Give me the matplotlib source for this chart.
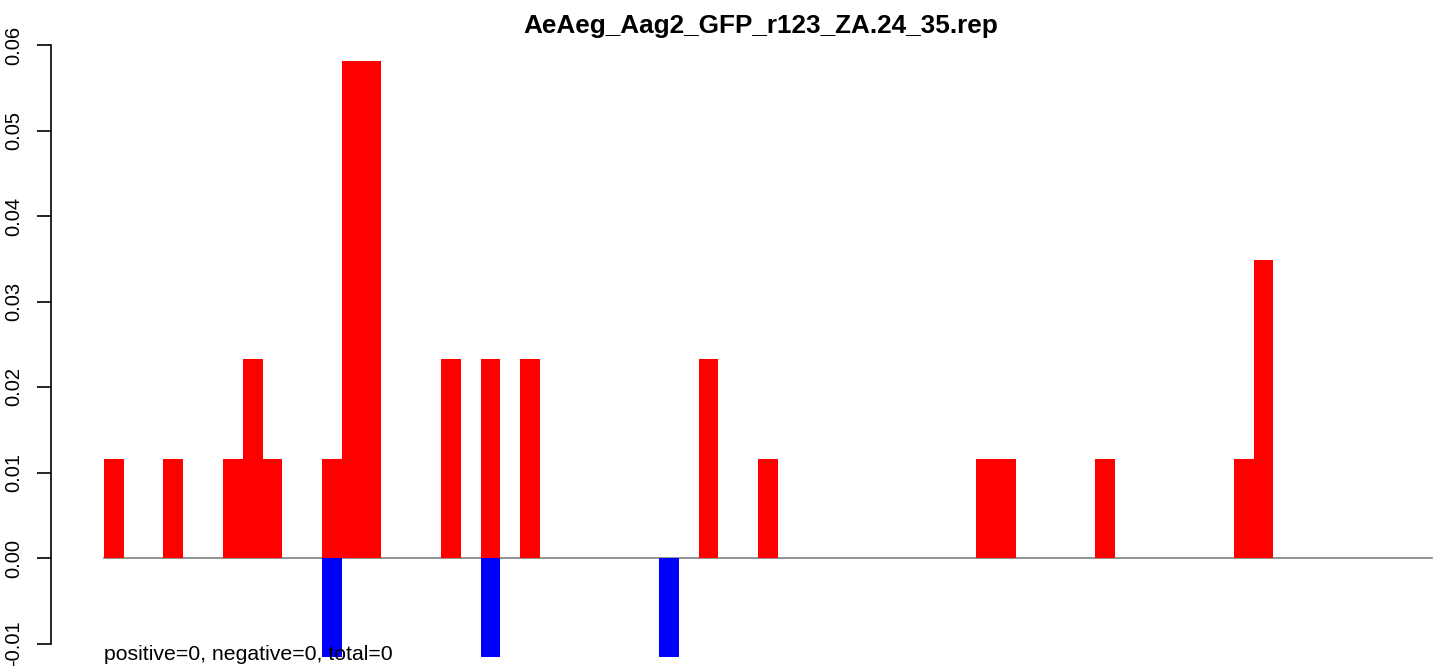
import matplotlib
matplotlib.use("Agg")
import matplotlib.pyplot as plt
import numpy as np

plt.rcParams['font.family'] = ['Liberation Sans', 'DejaVu Sans']

title = "AeAeg_Aag2_GFP_r123_ZA.24_35.rep"
note = "positive=0, negative=0, total=0"
n_positions = 67
total = 86.0
pos_idx = [0, 3, 6, 7, 8, 11, 12, 13, 17, 19, 21, 30, 33, 44, 45, 50, 57, 58]
pos_cnt = [1, 1, 1, 2, 1, 1, 5, 5, 2, 2, 2, 2, 1, 1, 1, 1, 1, 3]
neg_idx = [11, 19, 28]
neg_cnt = [-1, -1, -1]
yticks = [-0.01, 0.0, 0.01, 0.02, 0.03, 0.04, 0.05, 0.06]

W, H = 1439, 668
fig = plt.figure(figsize=(W / 100, H / 100), dpi=100)
ax = fig.add_axes([0, 0, 1, 1])

px_per_unit = 19.82
x0 = 104.0
y0 = 558.0
px_per_y = 8550.0
ax.set_xlim(-x0 / px_per_unit, (W - x0) / px_per_unit)
ax.set_ylim(-(H - y0) / px_per_y, y0 / px_per_y)

ax.plot([0, n_positions], [0, 0], color='#808080', lw=1.2, zorder=1)
ax.bar(pos_idx, np.array(pos_cnt) / total, width=1, align='edge', color='red', linewidth=0, zorder=2)
ax.bar(neg_idx, np.array(neg_cnt) / total, width=1, align='edge', color='blue', linewidth=0, zorder=2)

for s in ['top', 'right', 'bottom']:
    ax.spines[s].set_visible(False)
ax.spines['left'].set_position(('data', (51 - x0) / px_per_unit))
ax.spines['left'].set_bounds(-0.01, 0.06)
ax.spines['left'].set_linewidth(1.2)
ax.set_xticks([])
ax.set_yticks(yticks)
ax.set_yticklabels(["%.2f" % v for v in yticks], rotation=90, va='center', fontsize=14.5)
ax.tick_params(axis='y', length=10, width=1.2, pad=10)

fig.text(761 / W, 1 - 26 / H, title, ha='center', va='center', fontsize=18.8, fontweight='bold')
ax.text(0, -(660 - y0) / px_per_y, note, ha='left', va='baseline', fontsize=15.3)

fig.savefig("out.png", dpi=100)
